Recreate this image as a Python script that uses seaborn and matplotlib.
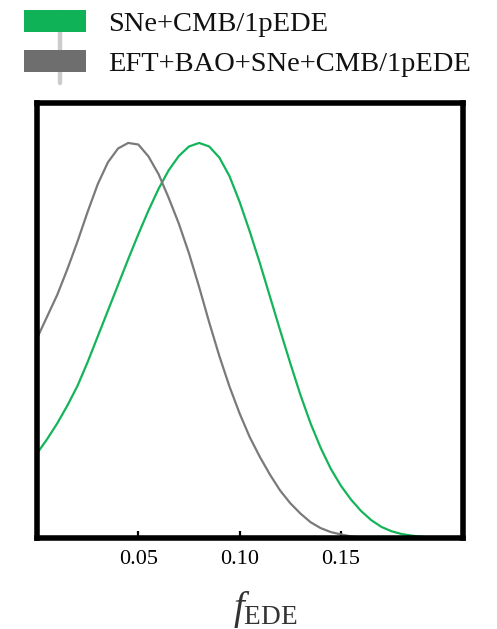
import matplotlib
matplotlib.use("Agg")
import matplotlib.pyplot as plt
from matplotlib.patches import Rectangle
from matplotlib.lines import Line2D
import pandas as pd
import seaborn as sns

# 1D marginal posteriors of f_EDE (normalised to peak = 1)
labels = ["SNe+CMB/1pEDE", "EFT+BAO+SNe+CMB/1pEDE"]
colors = ["#14b45a", "#7a7a7a"]
patch_colors = ["#10b257", "#6e6e6e"]

f_sne = [0.000, 0.005, 0.010, 0.015, 0.020, 0.025, 0.030, 0.035, 0.040,
         0.045, 0.050, 0.055, 0.060, 0.065, 0.070, 0.075, 0.080, 0.085,
         0.090, 0.095, 0.100, 0.105, 0.110, 0.115, 0.120, 0.125, 0.130,
         0.135, 0.140, 0.145, 0.150, 0.155, 0.160, 0.165, 0.170, 0.175,
         0.180, 0.185, 0.190, 0.195]
p_sne = [0.214, 0.250, 0.290, 0.335, 0.385, 0.445, 0.510, 0.575, 0.640,
         0.705, 0.768, 0.828, 0.883, 0.930, 0.966, 0.990, 0.999, 0.990,
         0.962, 0.915, 0.850, 0.775, 0.695, 0.610, 0.525, 0.442, 0.362,
         0.290, 0.228, 0.175, 0.132, 0.097, 0.068, 0.045, 0.028, 0.017,
         0.010, 0.006, 0.003, 0.001]

f_eft = [0.000, 0.005, 0.010, 0.015, 0.020, 0.025, 0.030, 0.035, 0.040,
         0.045, 0.050, 0.055, 0.060, 0.065, 0.070, 0.075, 0.080, 0.085,
         0.090, 0.095, 0.100, 0.105, 0.110, 0.115, 0.120, 0.125, 0.130,
         0.135, 0.140, 0.145, 0.150, 0.155, 0.160]
p_eft = [0.505, 0.560, 0.615, 0.680, 0.750, 0.825, 0.895, 0.950, 0.985,
         0.999, 0.995, 0.965, 0.920, 0.860, 0.795, 0.720, 0.635, 0.545,
         0.460, 0.383, 0.315, 0.255, 0.205, 0.160, 0.120, 0.088, 0.062,
         0.040, 0.025, 0.015, 0.009, 0.004, 0.001]

xticks = [0.05, 0.10, 0.15]
xtick_labels = ["0.05", "0.10", "0.15"]

df = pd.concat([
    pd.DataFrame({"f": f_sne, "p": p_sne, "run": labels[0]}),
    pd.DataFrame({"f": f_eft, "p": p_eft, "run": labels[1]}),
], ignore_index=True)

sns.set_style("white")
plt.rcParams["font.family"] = ["Liberation Serif", "DejaVu Serif"]
plt.rcParams["mathtext.fontset"] = "custom"
plt.rcParams["mathtext.rm"] = "Liberation Serif"
plt.rcParams["mathtext.it"] = "Liberation Serif:italic"

fig = plt.figure(figsize=(4.97, 6.29), dpi=100)
fig.patch.set_facecolor("white")
ax = fig.add_axes([37 / 497, (629 - 538) / 629, 425.5 / 497, 435 / 629])

sns.lineplot(data=df, x="f", y="p", hue="run", palette=dict(zip(labels, colors)),
             linewidth=1.6, legend=False, ax=ax, sort=False)

ax.set_xlim(0.0, 0.21)
ax.set_ylim(0.0, 1.10)
ax.set_xticks(xticks)
ax.set_xticklabels(xtick_labels)
ax.set_yticks([])
ax.set_ylabel("")
ax.tick_params(axis="x", direction="in", length=5, width=1.6, pad=9,
               labelsize=16, colors="black", bottom=True, top=False)
for s in ax.spines.values():
    s.set_visible(True)
    s.set_linewidth(4)
    s.set_color("black")
ax.set_xlabel(r"$f_{\mathrm{EDE}}$", fontsize=28, color="#333333")
ax.xaxis.set_label_coords(0.535, -0.118)

# legend block drawn in figure pixels
W, H = 497, 629
fig.add_artist(Line2D([60 / W, 60 / W], [1 - 12 / H, 1 - 83 / H],
                      transform=fig.transFigure, color="#cccccc", lw=3.2, zorder=1))
for i, (lab, pc) in enumerate(zip(labels, patch_colors)):
    top = 10 + 40 * i
    fig.add_artist(Rectangle((24 / W, 1 - (top + 22) / H), 62 / W, 22 / H,
                             transform=fig.transFigure, facecolor=pc,
                             edgecolor="none", zorder=2))
    fig.text(108 / W, 1 - (top + 21) / H, lab, fontsize=20.5, color="#111111",
             va="baseline", ha="left")

fig.savefig("out.png", dpi=100)
